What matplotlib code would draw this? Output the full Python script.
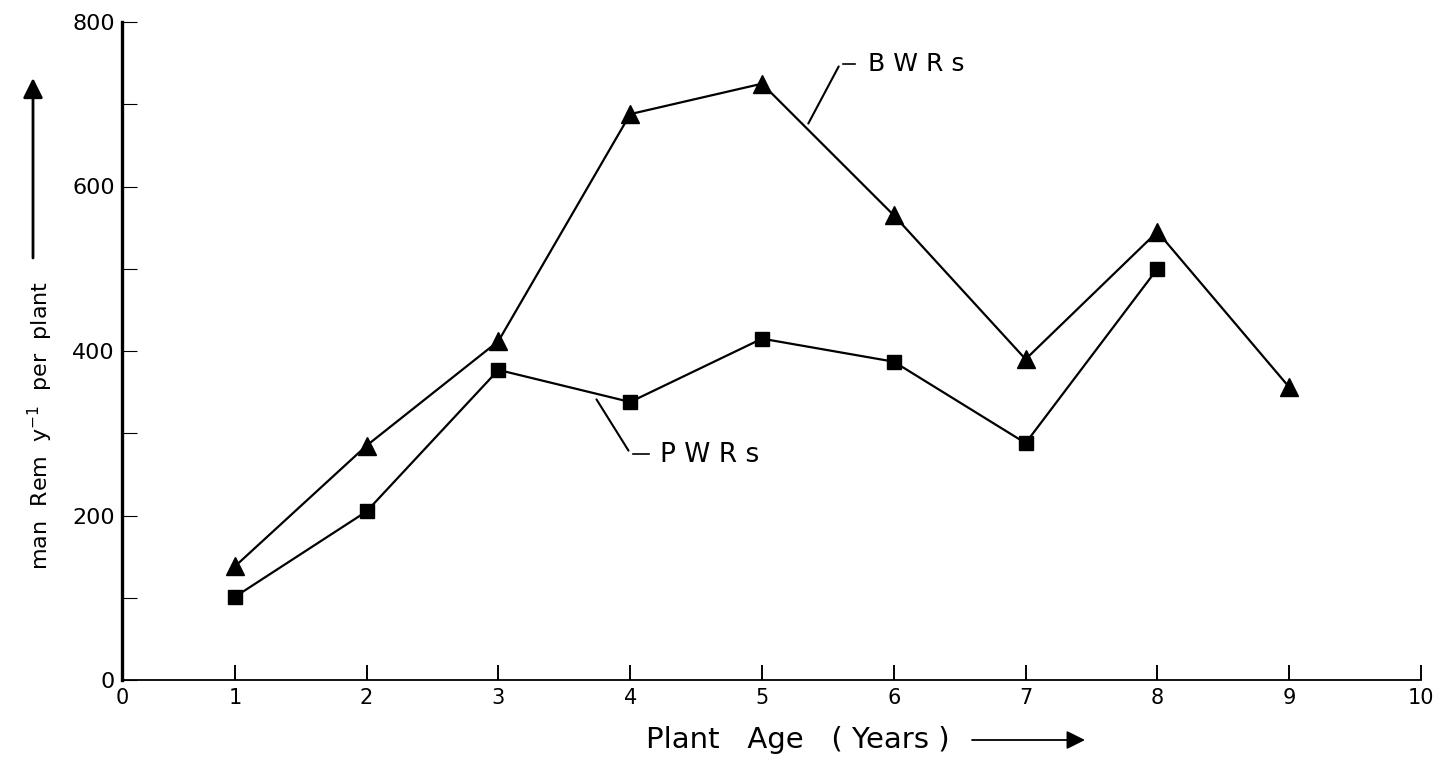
import matplotlib
matplotlib.use("Agg")
import matplotlib.pyplot as plt
from matplotlib.ticker import MultipleLocator

# plant age in years
age_bwr = [1, 2, 3, 4, 5, 6, 7, 8, 9]
age_pwr = [1, 2, 3, 4, 5, 6, 7, 8]
# man Rem per year per plant
bwr = [138, 285, 412, 688, 725, 565, 390, 545, 356]
pwr = [101, 205, 377, 338, 415, 387, 288, 500]

xticks = [1, 2, 3, 4, 5, 6, 7, 8, 9, 10]
yticks = [0, 200, 400, 600, 800]

plt.rcParams['font.family'] = ['DejaVu Sans']

fig = plt.figure(figsize=(14.4, 7.57), dpi=100)
ax = fig.add_axes([122/1440, 1 - 680/757, (1421 - 122)/1440, (680 - 22)/757])

# hand drawn axis: the origin sits a little right of where x=0 would be
x0 = 0.144
ax.set_xlim(x0, 10)
ax.set_ylim(0, 800)

ax.plot(age_bwr, bwr, color='black', lw=1.6, marker='^', ms=13, zorder=3)
ax.plot(age_pwr, pwr, color='black', lw=1.6, marker='s', ms=10.5, zorder=3)

# spines
for s in ['top', 'right']:
    ax.spines[s].set_visible(False)
ax.spines['left'].set_linewidth(2.4)
ax.spines['bottom'].set_linewidth(1.3)

ax.set_xticks([x0] + xticks)
ax.set_xticklabels(['0'] + [str(t) for t in xticks])
ax.set_yticks(yticks)
ax.set_yticklabels([str(t) for t in yticks])
ax.yaxis.set_minor_locator(MultipleLocator(100))
ax.tick_params(axis='x', direction='in', length=11, width=1.4, pad=6, labelsize=15)
ax.tick_params(axis='y', which='both', direction='in', length=11, width=0.8, pad=5, labelsize=16)
ax.xaxis.get_major_ticks()[0].tick1line.set_visible(False)

# series labels with leader lines (figure pixels)
ax.annotate('', xy=(807, 757 - 126), xytext=(840, 757 - 64), xycoords='figure pixels',
            arrowprops=dict(arrowstyle='-', lw=1.5, color='black'))
ax.annotate('', xy=(840, 757 - 64), xytext=(858, 757 - 64), xycoords='figure pixels',
            arrowprops=dict(arrowstyle='-', lw=1.2, color='black'))
fig.text(868 / 1440, 1 - 64 / 757, 'B W R s', fontsize=18, va='center', ha='left')

ax.annotate('', xy=(595, 757 - 397), xytext=(630, 757 - 453), xycoords='figure pixels',
            arrowprops=dict(arrowstyle='-', lw=1.5, color='black'))
ax.annotate('', xy=(630, 757 - 454), xytext=(652, 757 - 454), xycoords='figure pixels',
            arrowprops=dict(arrowstyle='-', lw=1.2, color='black'))
fig.text(660 / 1440, 1 - 455 / 757, 'P W R s', fontsize=19, va='center', ha='left')

# axis titles with arrows
fig.text(646 / 1440, 1 - 740 / 757, 'Plant   Age   ( Years )', fontsize=21, va='center', ha='left')
ax.annotate('', xy=(1085, 757 - 740), xytext=(972, 757 - 740), xycoords='figure pixels',
            arrowprops=dict(arrowstyle='-|>', lw=1.3, color='black',
                            mutation_scale=28, shrinkA=0, shrinkB=0))

fig.text(40 / 1440, 1 - 425 / 757, 'man  Rem  y$^{-1}$  per  plant', fontsize=16,
         rotation=90, va='center', ha='center')
ax.annotate('', xy=(33, 757 - 78), xytext=(33, 757 - 258), xycoords='figure pixels',
            arrowprops=dict(arrowstyle='-|>', lw=2.0, color='black',
                            mutation_scale=30, shrinkA=0, shrinkB=0))

fig.savefig('out.png', dpi=100)
